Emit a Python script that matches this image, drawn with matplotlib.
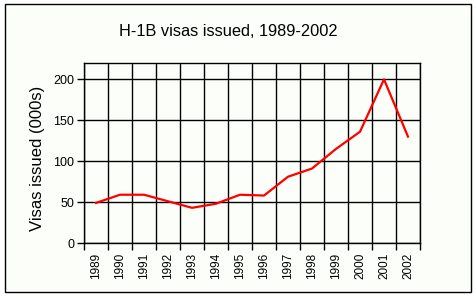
import matplotlib
matplotlib.use("Agg")
import matplotlib.pyplot as plt
from matplotlib.patches import Rectangle
import numpy as np

years = ["1989", "1990", "1991", "1992", "1993", "1994", "1995",
         "1996", "1997", "1998", "1999", "2000", "2001", "2002"]
visas = [49, 59, 59, 51, 43, 48, 59, 58, 81, 91, 115, 136, 200, 130]
yticks = [0, 50, 100, 150, 200]

plt.rcParams['font.family'] = ['Liberation Sans', 'DejaVu Sans']

fig = plt.figure(figsize=(4.76, 2.98), dpi=100)
fig.patch.set_facecolor('white')
W, H = 476, 298
# outer chart frame
fig.patches.append(Rectangle((5 / W, 1 - 292 / H), (471 - 5) / W, (292 - 4) / H,
                             transform=fig.transFigure, facecolor='#FCFFF9',
                             edgecolor='black', linewidth=1.0, zorder=-10))

ax = fig.add_axes([84 / W, 1 - 243 / H, (420 - 84) / W, (243 - 63) / H])
ax.set_zorder(1)
ax.set_facecolor('#FCFFF9')
n = len(years)
ax.set_xlim(0, n)
ax.set_ylim(0, 220)

xs = np.arange(n) + 0.5
ax.plot(xs, visas, color='red', linewidth=1.6, zorder=3, solid_joinstyle='round')

ax.set_xticks(np.arange(n + 1))
ax.set_xticklabels([])
ax.set_xticks(xs, minor=True)
ax.set_xticklabels(years, minor=True, rotation=90, fontsize=8.5)
ax.tick_params(axis='x', which='minor', length=0, pad=7)
ax.tick_params(axis='x', which='major', length=5, direction='out', width=1)
ax.set_yticks(yticks)
ax.set_yticklabels([str(v) for v in yticks], fontsize=9)
ax.tick_params(axis='y', length=5, direction='out', width=1, pad=2)
ax.grid(True, which='major', color='black', linewidth=1.0)
for s in ax.spines.values():
    s.set_linewidth(1.0)
    s.set_color('black')

fig.text(228 / W, 1 - 32 / H, "H-1B visas issued, 1989-2002", ha='center',
         va='center', fontsize=11.8)
fig.text(38 / W, 1 - 158 / H, "Visas issued (000s)", ha='center', va='center',
         rotation=90, fontsize=12)

fig.savefig("out.png", dpi=100, facecolor='white')
